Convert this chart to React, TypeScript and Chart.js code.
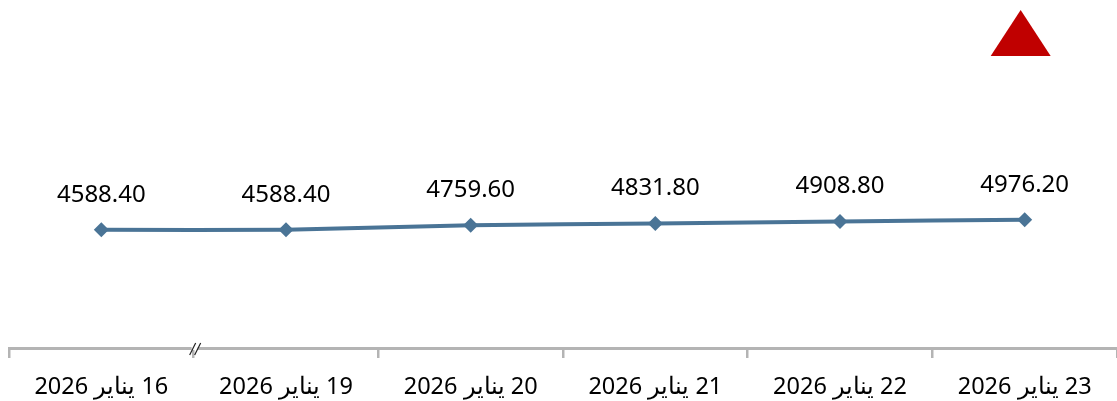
import React, { useEffect, useRef } from "react";
import { Chart, registerables } from "chart.js";

Chart.register(...registerables);

const categories = [
  "16 يناير 2026",
  "19 يناير 2026",
  "20 يناير 2026",
  "21 يناير 2026",
  "22 يناير 2026",
  "23 يناير 2026",
];
const prices = [4588.4, 4588.4, 4759.6, 4831.8, 4908.8, 4976.2];
const priceLabels = ["4588.40", "4588.40", "4759.60", "4831.80", "4908.80", "4976.20"];

const FONT = '"Noto Sans", sans-serif';

const decorations = {
  id: "decorations",
  afterDatasetsDraw(chart: any) {
    const { ctx } = chart;
    const meta = chart.getDatasetMeta(0);
    const x = chart.scales.x;
    ctx.save();
    // value labels
    ctx.font = `24px ${FONT}`;
    ctx.fillStyle = "#000000";
    ctx.textAlign = "center";
    ctx.textBaseline = "middle";
    ctx.direction = "ltr";
    meta.data.forEach((pt: any, i: number) => {
      ctx.fillText(priceLabels[i], pt.x, pt.y - 35);
    });
    // axis break mark
    const bx = (x.getPixelForValue(0) + x.getPixelForValue(1)) / 2 + 2;
    const by = x.top;
    ctx.fillStyle = "#ffffff";
    ctx.fillRect(bx - 4, by - 2, 6, 4);
    ctx.strokeStyle = "#222222";
    ctx.lineWidth = 1.2;
    [-3, 2].forEach((dx) => {
      ctx.beginPath();
      ctx.moveTo(bx + dx - 3, by + 7);
      ctx.lineTo(bx + dx + 3, by - 5);
      ctx.stroke();
    });
    // trend arrow
    const tx = x.getPixelForValue(categories.length - 1) - 4;
    ctx.fillStyle = "#c00000";
    ctx.beginPath();
    ctx.moveTo(tx, 10);
    ctx.lineTo(tx + 30, 56);
    ctx.lineTo(tx - 30, 56);
    ctx.closePath();
    ctx.fill();
    ctx.restore();
  },
};

export default function App() {
  const ref = useRef<HTMLCanvasElement>(null);
  useEffect(() => {
    const chart = new Chart(ref.current!, {
      type: "line",
      data: {
        labels: categories,
        datasets: [
          {
            data: prices,
            borderColor: "#4a7496",
            backgroundColor: "#4a7496",
            borderWidth: 4,
            tension: 0.2,
            pointStyle: "rectRot",
            pointRadius: 7.5,
            pointHoverRadius: 7.5,
            pointBorderWidth: 0,
          },
        ],
      },
      options: {
        animation: false,
        responsive: false,
        layout: { autoPadding: false, padding: { left: 9, right: 0, top: 0, bottom: 0 } },
        plugins: { legend: { display: false }, tooltip: { enabled: false } },
        scales: {
          x: {
            offset: true,
            afterFit(scale: any) {
              scale.paddingLeft = 0;
              scale.paddingRight = 0;
              scale.height = 53;
            },
            border: { color: "#b4b4b4", width: 3 },
            grid: {
              offset: true,
              drawOnChartArea: false,
              drawTicks: true,
              tickLength: 10,
              color: "#b4b4b4",
              lineWidth: 2.5,
            },
            ticks: {
              color: "#000000",
              font: { family: FONT, size: 23.5 },
              maxRotation: 0,
              autoSkip: false,
              padding: 15,
            },
          },
          y: { display: false, min: 0, max: 13500 },
        },
      },
      plugins: [decorations],
    });
    return () => chart.destroy();
  }, []);
  return (
    <div style={{ position: "absolute", left: 0, top: 0, width: 1117, height: 401, background: "#fff" }}>
      <canvas ref={ref} width={1117} height={401} dir="rtl" style={{ display: "block", direction: "rtl" }} />
    </div>
  );
}
